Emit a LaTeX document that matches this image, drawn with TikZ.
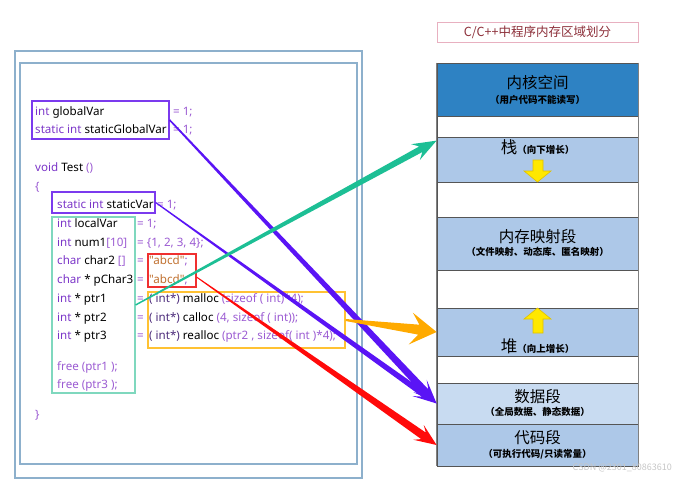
\documentclass[tikz,border=0pt]{standalone}
\usepackage{fontspec}
\setmainfont{Noto Sans CJK SC}
\newfontfamily\codefont{Noto Sans}
\usetikzlibrary{calc,fit}
\definecolor{kwc}{HTML}{7B35C8}
\definecolor{puc}{HTML}{9B5BD2}
\definecolor{stc}{HTML}{C0702F}
\definecolor{dkc}{HTML}{4B2A7A}
\definecolor{framec}{HTML}{8DB0CC}
\definecolor{gboxc}{HTML}{7B3AEE}
\definecolor{lboxc}{HTML}{7FD8BE}
\definecolor{rboxc}{HTML}{F03030}
\definecolor{oboxc}{HTML}{FFC233}
\definecolor{garr}{HTML}{1DBF95}
\definecolor{parr}{HTML}{5A14F5}
\definecolor{oarr}{HTML}{FFAA00}
\definecolor{rarr}{HTML}{FF0A0A}
\definecolor{kern}{HTML}{2E82C3}
\definecolor{segc}{HTML}{ADC8E8}
\definecolor{datac}{HTML}{C8DBF1}
\definecolor{segline}{HTML}{555555}
\definecolor{titlec}{HTML}{8C2F39}
\definecolor{titleb}{HTML}{E8B0C0}
\definecolor{yel}{HTML}{FFE800}
\definecolor{yelb}{HTML}{E0C000}
\newcommand\kw[1]{\textcolor{kwc}{#1}}
\newcommand\pu[1]{\textcolor{puc}{#1}}
\newcommand\st[1]{\textcolor{stc}{#1}}
\newcommand\dk[1]{\textcolor{dkc}{#1}}
% tapered arrow: color, from, to, w0, w1, neck, barb, halfwidth
\newcommand\taperarrow[8]{%
  \path ($(#3)!#6!(#2)$) coordinate (tN) ($(#3)!#7!(#2)$) coordinate (tD);
  \fill[#1] ($(#2)!#4!90:(#3)$) -- ($(tN)!#5!90:(#3)$) -- ($(tD)!#8!90:(#3)$)
    -- (#3) -- ($(tD)!#8!-90:(#3)$) -- ($(tN)!#5!-90:(#3)$)
    -- ($(#2)!#4!-90:(#3)$) -- cycle;}
\tikzset{
  code/.style={anchor=base west, inner sep=0pt, font=\codefont\fontsize{11.6}{13}\selectfont},
  boxfit/.style={draw=#1, line width=1.3pt, inner sep=0pt},
  seg/.style={draw=segline, line width=0.8pt, inner sep=0pt},
  big/.style={inner sep=0pt, font=\fontsize{15.5}{17}\selectfont},
  small/.style={inner sep=0pt, font=\fontsize{9.5}{11}\selectfont\bfseries},
  yarrow/.style={fill=yel, draw=yelb, line width=0.6pt},
}
\begin{document}
\begin{tikzpicture}[x=1pt,y=-1pt]
\useasboundingbox (0,0) rectangle (695,480);
% frames
\node[draw=framec, line width=1.1pt, inner sep=0pt, fit={(15,51)(362,478)}] (outer) {};
\node[draw=framec, line width=1.1pt, inner sep=0pt, fit={(20,63)(357,464)}] (inner) {};
% code
\node[code] (c1) at (35,115) {\kw{int} globalVar};
\node[code] (c1b) at (173,115) {\pu{= 1;}};
\node[code] (c2) at (35,133) {\kw{static int} staticGlobalVar};
\node[code] (c2b) at (173,133) {\pu{= 1;}};
\node[code] (c3) at (35,171) {\kw{void} Test \pu{()}};
\node[code] (c4) at (35,190) {\pu{\{}};
\node[code] (c5) at (57,208) {\kw{static int} staticVar};
\node[code] (c5b) at (157,208) {\pu{= 1;}};
\node[code] (c6) at (57,227) {\kw{int} localVar};
\node[code] (c6b) at (137,227) {\pu{= 1;}};
\node[code] (c7) at (57,246) {\kw{int} num1\pu{[10]}};
\node[code] (c7b) at (137,246) {\pu{= \{1, 2, 3, 4\};}};
\node[code] (c8) at (57,264) {\kw{char} char2 \pu{[]}};
\node[code] (c8b) at (137,264) {\pu{=}};
\node[code] (c8c) at (149,264) {\st{"abcd"}\pu{;}};
\node[code] (c9) at (57,283) {\kw{char} * pChar3};
\node[code] (c9b) at (137,283) {\pu{=}};
\node[code] (c9c) at (149,283) {\st{"abcd"}\pu{;}};
\node[code] (c10) at (57,302) {\kw{int} * ptr1};
\node[code] (c10b) at (137,302) {\pu{=}};
\node[code] (c10c) at (149,302) {\dk{( int*)} malloc \pu{(sizeof ( int)*4);}};
\node[code] (c11) at (57,321) {\kw{int} * ptr2};
\node[code] (c11b) at (137,321) {\pu{=}};
\node[code] (c11c) at (149,321) {\dk{( int*)} calloc \pu{(4, sizeof ( int));}};
\node[code] (c12) at (57,339) {\kw{int} * ptr3};
\node[code] (c12b) at (137,339) {\pu{=}};
\node[code] (c12c) at (149,339) {\dk{( int*)} realloc \pu{(ptr2 , sizeof( int )*4);}};
\node[code] (c13) at (57,370) {\pu{free (ptr1 );}};
\node[code] (c14) at (57,388) {\pu{free (ptr3 );}};
\node[code] (c15) at (35,418) {\pu{\}}};
% highlight boxes
\node[boxfit=gboxc, fit={(32,101)(169,139)}] (gbox) {};
\node[boxfit=gboxc, fit={(52,192)(155,213)}] (sbox) {};
\node[boxfit=lboxc, line width=1.1pt, fit={(52,217)(135,393)}] (lbox) {};
\node[boxfit=rboxc, fit={(148,254)(196,287)}] (rbox) {};
\node[boxfit=oboxc, fit={(148,292)(345,348)}] (obox) {};
% title
\node[draw=titleb, line width=0.8pt, inner sep=0pt, fit={(437,22)(638,42)}] (titlebox) {};
\node[text=titlec, font=\fontsize{12.5}{14}\selectfont] (title) at (titlebox.center) {C/C++中程序内存区域划分};
% memory segments
\node[seg, fill=kern, fit={(437,63)(638,116)}] (kernel) {};
\node[seg, fill=white, fit={(437,116)(638,137)}] (gap1) {};
\node[seg, fill=segc, fit={(437,137)(638,182)}] (stack) {};
\node[seg, fill=white, fit={(437,182)(638,217)}] (gap2) {};
\node[seg, fill=segc, fit={(437,217)(638,270)}] (mmap) {};
\node[seg, fill=white, fit={(437,270)(638,308)}] (gap3) {};
\node[seg, fill=segc, fit={(437,308)(638,356)}] (heap) {};
\node[seg, fill=white, fit={(437,356)(638,383)}] (gap4) {};
\node[seg, fill=datac, fit={(437,383)(638,424)}] (data) {};
\node[seg, fill=segc, fit={(437,424)(638,466)}] (code) {};
\draw[gray, line width=1.6pt] (kernel.north west) -- (code.south west);
\draw[gray, line width=1pt] (kernel.north east) -- (code.south east);
% labels
\node[big] (t1) at (537.5,83) {内核空间};
\node[small] (t1s) at (537.5,100) {（用户代码不能读写）};
\node[inner sep=0pt, anchor=base] (t2) at (537.5,153) {{\fontsize{16.5}{17}\selectfont 栈}{\fontsize{9.5}{11}\selectfont\bfseries（向下增长）}};
\node[big] (t3) at (537.5,237) {内存映射段};
\node[small] (t3s) at (537.5,252) {（文件映射、动态库、匿名映射）};
\node[inner sep=0pt, anchor=base] (t4) at (537.5,352) {{\fontsize{16.5}{17}\selectfont 堆}{\fontsize{9.5}{11}\selectfont\bfseries（向上增长）}};
\node[big] (t5) at (537.5,397) {数据段};
\node[small] (t5s) at (537.5,412) {（全局数据、静态数据）};
\node[big] (t6) at (537.5,438) {代码段};
\node[small] (t6s) at (537.5,454) {（可执行代码/只读常量）};
% yellow arrows
\draw[yarrow] (533,160) -- (543,160) -- (543,171) -- (551,171) -- (537.5,182) -- (524,171) -- (533,171) -- cycle;
\draw[yarrow] (533,333) -- (543,333) -- (543,319) -- (551,319) -- (537.5,308) -- (524,319) -- (533,319) -- cycle;
% connectors
\taperarrow{parr}{gbox.east}{data.west}{0.8pt}{3.7pt}{16pt}{24pt}{9pt}
\taperarrow{parr}{sbox.east}{data.west}{0.6pt}{3pt}{16pt}{24pt}{8pt}
\taperarrow{garr}{lbox.east}{$(stack.north west)+(0,4)$}{0.7pt}{3.2pt}{18pt}{24pt}{9pt}
\taperarrow{oarr}{obox.east}{heap.west}{1pt}{5pt}{18pt}{26pt}{16pt}
\taperarrow{rarr}{rbox.-15}{code.west}{0.5pt}{4pt}{16pt}{22pt}{9pt}
% watermark text
\node[text=gray!45, font=\fontsize{9}{10}\selectfont, anchor=base east, inner sep=0pt] (wm) at (672,470) {CSDN @2301\_80863610};
\end{tikzpicture}
\end{document}
